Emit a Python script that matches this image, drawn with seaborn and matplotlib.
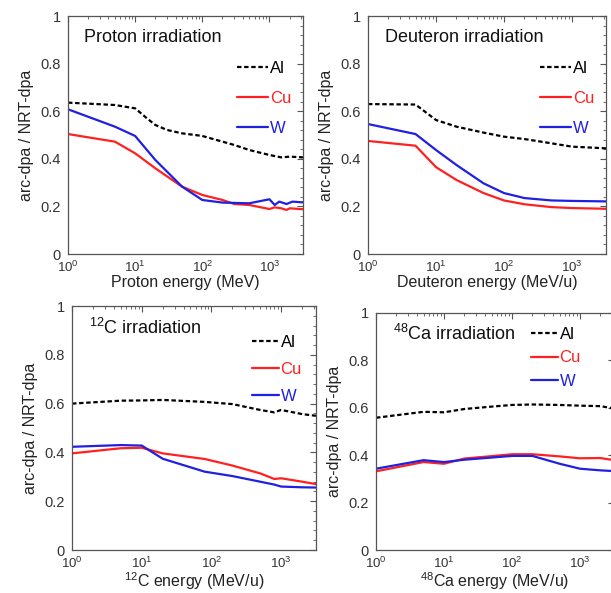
import numpy as np
import pandas as pd
import seaborn as sns
import matplotlib.pyplot as plt
from matplotlib.ticker import MultipleLocator, LogLocator, FuncFormatter, NullFormatter
from matplotlib.lines import Line2D

# ============ DATA ============
materials = ["Al", "Cu", "W"]

# Proton irradiation (MeV)
p_al_e = [1, 5, 10, 15, 20, 30, 50, 100, 200, 300, 500, 1000, 1500, 2000, 3162]
p_al = [0.636, 0.626, 0.612, 0.57, 0.542, 0.521, 0.507, 0.496, 0.472, 0.458, 0.437, 0.416, 0.406, 0.409, 0.406]
p_cu_e = [1, 5, 10, 20, 50, 100, 200, 300, 500, 1000, 1200, 1500, 1800, 2000, 3162]
p_cu = [0.504, 0.472, 0.423, 0.36, 0.283, 0.248, 0.227, 0.21, 0.206, 0.189, 0.196, 0.192, 0.185, 0.192, 0.188]
p_w_e = [1, 5, 10, 20, 50, 100, 200, 500, 1000, 1200, 1400, 1800, 2200, 3162]
p_w = [0.608, 0.535, 0.496, 0.395, 0.283, 0.227, 0.216, 0.213, 0.23, 0.206, 0.22, 0.21, 0.22, 0.217]

# Deuteron irradiation (MeV/u)
d_e = [1, 5, 10, 20, 50, 100, 200, 500, 1000, 3162]
d_al = [0.63, 0.628, 0.563, 0.535, 0.51, 0.493, 0.483, 0.465, 0.451, 0.444]
d_cu = [0.475, 0.455, 0.365, 0.311, 0.256, 0.225, 0.209, 0.197, 0.193, 0.19]
d_w = [0.546, 0.504, 0.437, 0.374, 0.297, 0.256, 0.235, 0.225, 0.223, 0.221]

# 12C irradiation (MeV/u)
c_e = [1, 5, 10, 20, 80, 200, 500, 800, 1000, 2000, 3162]
c_al = [0.6, 0.612, 0.613, 0.615, 0.607, 0.598, 0.574, 0.564, 0.574, 0.557, 0.55]
c_cu = [0.396, 0.417, 0.419, 0.396, 0.373, 0.346, 0.314, 0.291, 0.294, 0.28, 0.27]
c_w = [0.423, 0.43, 0.428, 0.374, 0.321, 0.303, 0.28, 0.268, 0.26, 0.257, 0.256]

# 48Ca irradiation (MeV/u)
ca_e = [1, 5, 10, 20, 50, 100, 200, 500, 1000, 2000, 3162]
ca_al = [0.558, 0.583, 0.581, 0.595, 0.605, 0.612, 0.614, 0.612, 0.609, 0.607, 0.597]
ca_cu = [0.332, 0.371, 0.364, 0.386, 0.396, 0.404, 0.404, 0.395, 0.387, 0.388, 0.379]
ca_w = [0.343, 0.379, 0.371, 0.381, 0.39, 0.397, 0.397, 0.364, 0.343, 0.336, 0.333]

panels = [
    ("Proton irradiation", "Proton energy (MeV)",
     [(p_al_e, p_al), (p_cu_e, p_cu), (p_w_e, p_w)]),
    ("Deuteron irradiation", "Deuteron energy (MeV/u)",
     [(d_e, d_al), (d_e, d_cu), (d_e, d_w)]),
    ("$^{12}$C irradiation", "$^{12}$C energy (MeV/u)",
     [(c_e, c_al), (c_e, c_cu), (c_e, c_w)]),
    ("$^{48}$Ca irradiation", "$^{48}$Ca energy (MeV/u)",
     [(ca_e, ca_al), (ca_e, ca_cu), (ca_e, ca_w)]),
]

# axes boxes in pixels: left, top, right, bottom
boxes_px = [(68, 16, 303, 254), (368, 16, 606, 254),
            (72, 306, 316, 550), (376, 313, 614, 550)]
# legend anchor (axes fraction, upper right) and row spacing for each panel
legend_anchor = [(1.0, 0.86), (1.0, 0.86), (0.99, 0.93), (0.91, 0.99)]
legend_spacing = [0.9, 0.9, 0.72, 0.5]
legend_handle = [1.9, 1.9, 1.6, 1.6]

# ============ STYLE ============
sns.set_style("white")
plt.rcParams['font.family'] = ['Liberation Sans', 'DejaVu Sans']
plt.rcParams['mathtext.fontset'] = 'custom'
plt.rcParams['mathtext.rm'] = 'Liberation Sans'
plt.rcParams['mathtext.it'] = 'Liberation Sans'
plt.rcParams['mathtext.default'] = 'regular'

palette = {"Al": "black", "Cu": "#ff2020", "W": "#2020e0"}
dashes = {"Al": (2, 1.2), "Cu": "", "W": ""}
spine_col = "#555555"

W_PX, H_PX = 611, 593
fig = plt.figure(figsize=(W_PX / 100, H_PX / 100), dpi=100)
fig.set_facecolor('white')

for i, ((title, xlabel, series), (l, t, r, b)) in enumerate(zip(panels, boxes_px)):
    ax = fig.add_axes([l / W_PX, 1 - b / H_PX, (r - l) / W_PX, (b - t) / H_PX])

    rows = []
    for mat, (xs, ys) in zip(materials, series):
        for x, y in zip(xs, ys):
            rows.append({"energy": x, "ratio": y, "material": mat})
    df = pd.DataFrame(rows)

    sns.lineplot(data=df, x="energy", y="ratio", hue="material", style="material",
                 palette=palette, dashes=dashes, estimator=None, sort=False,
                 linewidth=1.6, legend=False, ax=ax)

    ax.set_xscale("log")
    ax.set_xlim(1, 3162)
    ax.set_ylim(0, 1)
    ax.yaxis.set_major_locator(MultipleLocator(0.2))
    ax.yaxis.set_minor_locator(MultipleLocator(0.04))
    ax.yaxis.set_major_formatter(FuncFormatter(lambda v, p: "%g" % round(v, 2)))
    ax.xaxis.set_major_locator(LogLocator(base=10, numticks=10))
    ax.xaxis.set_minor_locator(LogLocator(base=10, subs=np.arange(2, 10), numticks=10))
    ax.xaxis.set_minor_formatter(NullFormatter())

    ax.tick_params(which="both", direction="in", top=True, right=True,
                   color=spine_col, labelcolor="#333333")
    ax.tick_params(which="major", length=4, width=0.8)
    ax.tick_params(which="minor", length=2, width=0.6)
    ax.tick_params(axis="x", which="major", pad=4, labelsize=9.5)
    ax.tick_params(axis="y", which="major", pad=5, labelsize=10.5)
    for s in ax.spines.values():
        s.set_color(spine_col)
        s.set_linewidth(0.9)

    ax.set_xlabel(xlabel, fontsize=11.5, color="#222222", labelpad=0)
    ax.set_ylabel("arc-dpa / NRT-dpa", fontsize=11.5, color="#222222", labelpad=5)
    ax.text(0.07, 0.91, title, transform=ax.transAxes, fontsize=13,
            color="#111111", va="center", ha="left")

    handles = [Line2D([], [], color=palette[m], lw=1.6,
                      dashes=dashes[m] if dashes[m] else (None, None)) for m in materials]
    ax.legend(handles, materials, loc="upper right", bbox_to_anchor=legend_anchor[i],
              frameon=False, fontsize=12, handlelength=legend_handle[i], handletextpad=0.1,
              labelspacing=legend_spacing[i], labelcolor="linecolor", borderaxespad=0.3)

plt.savefig("out.png", dpi=100, facecolor="white")
plt.close()
